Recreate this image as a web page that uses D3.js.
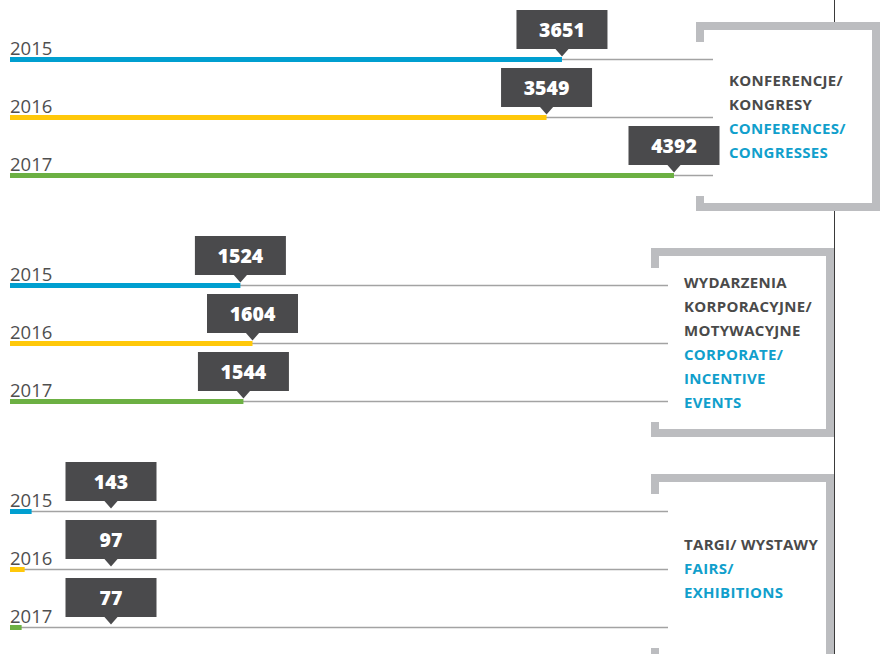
<!DOCTYPE html>
<html>
<head>
<meta charset="utf-8">
<script src="https://cdn.jsdelivr.net/npm/d3@7"></script>
<style>
  body { margin: 0; background: #fff; }
  svg { display: block; }
  text { font-family: "Open Sans", "Noto Sans", sans-serif; }
</style>
</head>
<body>
<svg class="chart"></svg>
<script>
// data
var years = ["2015", "2016", "2017"];
var yearColors = ["#009fd0", "#ffc80a", "#6cb043"];
var categoriesPl = [["KONFERENCJE/", "KONGRESY"], ["WYDARZENIA", "KORPORACYJNE/", "MOTYWACYJNE"], ["TARGI/ WYSTAWY"]];
var categoriesEn = [["CONFERENCES/", "CONGRESSES"], ["CORPORATE/", "INCENTIVE", "EVENTS"], ["FAIRS/", "EXHIBITIONS"]];
var conferences = [3651, 3549, 4392];
var corporate = [1524, 1604, 1544];
var fairs = [143, 97, 77];
var seriesValues = [conferences, corporate, fairs];

var width = 884, height = 654;
var svg = d3.select(".chart").attr("width", width).attr("height", height);

var x = d3.scaleLinear().domain([0, 4392]).range([10, 674]);

// groups and rows
var group = d3.scaleBand().domain(d3.range(3)).range([0, 678]).padding(0);
var row = d3.scaleBand().domain(years).range([0, 174]);

var groupTop = function(i) { return group(i) + 22; };
var lineY = function(i, y) { return groupTop(i) + 37 + row(y); };

var boxLeft = [696, 651, 651];
var boxW = [184, 183, 183];
var boxH = 189;
var lineEnd = [713, 668, 668];
var labelW = 91, labelH = 39, minLabelX = 111;

// thin vertical rule
svg.append("line")
  .attr("x1", 834.5).attr("x2", 834.5).attr("y1", 0).attr("y2", height)
  .attr("stroke", "#3a3a3a").attr("stroke-width", 1);

// white box backgrounds (hide the rule inside the boxes)
var bgLayer = svg.append("g");
var rowLayer = svg.append("g");
var boxLayer = svg.append("g");

seriesValues.forEach(function(vals, gi) {
  var bx = boxLeft[gi], by = groupTop(gi), bw = boxW[gi];
  bgLayer.append("rect")
    .attr("x", bx + 4).attr("y", by + 4).attr("width", bw - 8).attr("height", boxH - 8)
    .attr("fill", "#fff");

  var rows = rowLayer.append("g").selectAll(".row").data(vals).enter().append("g").attr("class", "row");

  // thin gray baseline
  rows.append("line")
    .attr("x1", 10).attr("x2", lineEnd[gi])
    .attr("y1", function(d, i) { return lineY(gi, years[i]) + 0.5; })
    .attr("y2", function(d, i) { return lineY(gi, years[i]) + 0.5; })
    .attr("stroke", "#a3a3a3").attr("stroke-width", 1.5);

  // coloured bar
  rows.append("rect")
    .attr("x", x(0))
    .attr("y", function(d, i) { return lineY(gi, years[i]) - 2; })
    .attr("width", function(d) { return x(d) - x(0); })
    .attr("height", 5)
    .attr("fill", function(d, i) { return yearColors[i]; });

  // year label
  rows.append("text")
    .attr("x", 10)
    .attr("y", function(d, i) { return lineY(gi, years[i]) - 4; })
    .attr("font-size", "18.5px")
    .attr("fill", "#4f4f4f")
    .text(function(d, i) { return years[i]; });

  // value callout
  var cx = function(d) { return Math.max(x(d), minLabelX); };
  rows.append("rect")
    .attr("x", function(d) { return cx(d) - labelW / 2; })
    .attr("y", function(d, i) { return lineY(gi, years[i]) - 49; })
    .attr("width", labelW).attr("height", labelH)
    .attr("fill", "#4a4a4c");
  rows.append("path")
    .attr("d", function(d, i) {
      var c = cx(d), b = lineY(gi, years[i]) - 10.5;
      return "M" + (c - 7) + "," + b + "L" + (c + 7) + "," + b + "L" + c + "," + (b + 8) + "Z";
    })
    .attr("fill", "#4a4a4c");
  rows.append("text")
    .attr("x", cx)
    .attr("y", function(d, i) { return lineY(gi, years[i]) - 22.5; })
    .attr("text-anchor", "middle")
    .attr("font-size", "19.5px").attr("font-weight", 800)
    .attr("fill", "#fff")
    .text(function(d) { return d; });

  // category bracket
  boxLayer.append("path")
    .attr("d", "M" + (bx + 4) + "," + (by + 20) + "V" + (by + 4) + "H" + (bx + bw - 4) +
      "V" + (by + boxH - 4) + "H" + (bx + 4) + "V" + (by + boxH - 15))
    .attr("fill", "none").attr("stroke", "#bcbdc0").attr("stroke-width", 8);

  // category text
  var lines = categoriesPl[gi].map(function(t) { return {t: t, c: "#4a4a4a"}; })
    .concat(categoriesEn[gi].map(function(t) { return {t: t, c: "#119fcc"}; }));
  var mid = by + boxH / 2;
  var firstBase = mid - (lines.length - 1) * 24 / 2 + 5;
  boxLayer.selectAll(null).data(lines).enter().append("text")
    .attr("x", bx + 33)
    .attr("y", function(d, i) { return firstBase + i * 24; })
    .attr("font-size", "15px").attr("font-weight", 700)
    .attr("letter-spacing", "0.3px")
    .attr("fill", function(d) { return d.c; })
    .text(function(d) { return d.t; });
});
</script>
</body>
</html>
